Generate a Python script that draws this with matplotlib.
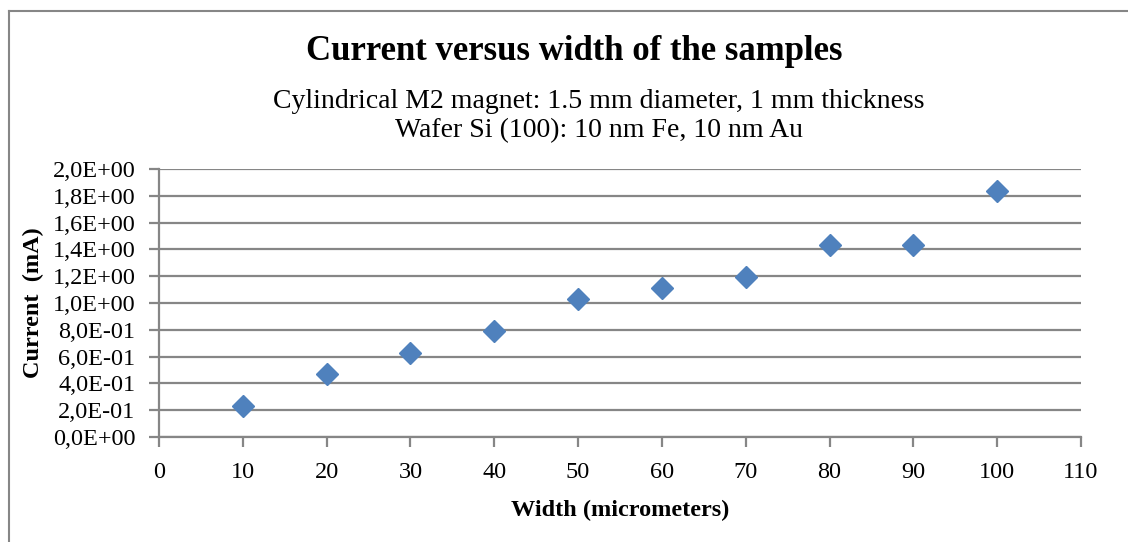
import numpy as np
import matplotlib as mpl
mpl.use('Agg')
import matplotlib.pyplot as plt
from matplotlib.lines import Line2D
from matplotlib.ticker import FuncFormatter

mpl.rc('font', family='Liberation Serif')

# data
width = [10, 20, 30, 40, 50, 60, 70, 80, 90, 100]
current = [0.23, 0.47, 0.63, 0.79, 1.03, 1.11, 1.195, 1.435, 1.435, 1.835]

x_ticks = np.arange(0, 111, 10)
y_ticks = np.arange(0, 2.01, 0.2)

title = 'Current versus width of the samples'
subtitle1 = 'Cylindrical M2 magnet: 1.5 mm diameter, 1 mm thickness'
subtitle2 = 'Wafer Si (100): 10 nm Fe, 10 nm Au'

grey = '#868686'

fig = plt.figure(figsize=(11.28, 5.42), dpi=100)
ax = fig.add_axes([159/1128, 1 - 437/542, (1081 - 159)/1128, (437 - 169)/542])

ax.plot(width, current, linestyle='none', marker='D', markersize=11.5,
        color='#4F81BD', zorder=3)

ax.set_xlim(0, 110)
ax.set_ylim(0, 2.0)
ax.set_xticks(x_ticks)
ax.set_yticks(y_ticks)
ax.yaxis.set_major_formatter(FuncFormatter(lambda v, p: f'{v:.1E}'.replace('.', ',')))

ax.grid(axis='y', color=grey, linewidth=1.6)
ax.set_axisbelow(True)
for s in ['top', 'right']:
    ax.spines[s].set_visible(False)
for s in ['left', 'bottom']:
    ax.spines[s].set_color(grey)
    ax.spines[s].set_linewidth(1.6)
ax.tick_params(axis='both', direction='out', length=7, width=1.6, color=grey,
               labelsize=17.5)
ax.tick_params(axis='y', pad=10)
ax.tick_params(axis='x', pad=11)

ax.set_xlabel('Width (micrometers)', fontsize=17.5, fontweight='bold', labelpad=12)
ax.set_ylabel('Current  (mA)', fontsize=17.5, fontweight='bold', labelpad=6)

fig.text(0.5 + 10/1128, 1 - 52/542, title, ha='center', va='center',
         fontsize=25, fontweight='bold')
fig.text(599/1128, 1 - 101/542, subtitle1, ha='center', va='center', fontsize=20)
fig.text(599/1128, 1 - 131/542, subtitle2, ha='center', va='center', fontsize=20)

# chart frame (left and top edges visible)
fig.add_artist(Line2D([9/1128, 9/1128], [0, 1 - 11/542], transform=fig.transFigure,
                      color=grey, linewidth=1.5))
fig.add_artist(Line2D([9/1128, 1], [1 - 11/542, 1 - 11/542], transform=fig.transFigure,
                      color=grey, linewidth=1.5))

fig.savefig('out.png', dpi=100)
